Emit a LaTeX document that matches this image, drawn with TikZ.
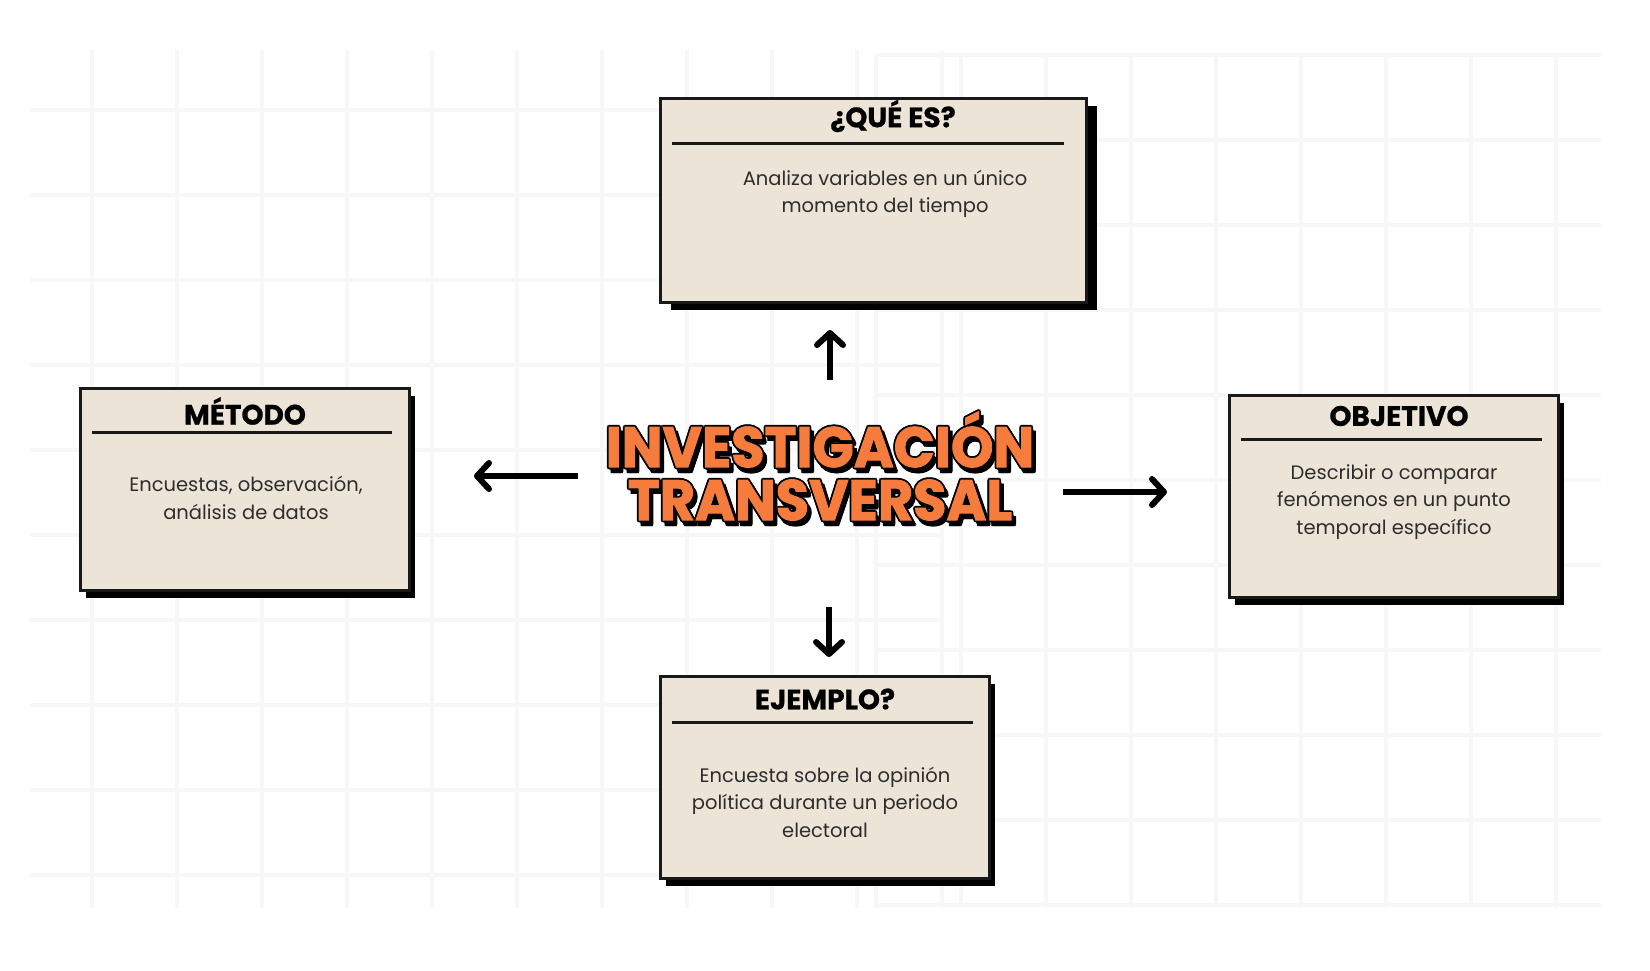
\documentclass[tikz,border=0pt]{standalone}
\usepackage{fontspec}
\setmainfont{Poppins}
\newfontfamily\bigfont{Poppins}[FakeStretch=0.95,FakeBold=1.6]
\newfontfamily\headfont{Poppins}[FakeBold=0.8]
\usetikzlibrary{arrows.meta,shadows}
\definecolor{cardbg}{RGB}{237,228,216}
\definecolor{titleorange}{RGB}{245,124,60}
\definecolor{gridgray}{RGB}{247,247,247}
\definecolor{bodygray}{RGB}{45,45,45}

\begin{document}
\begin{tikzpicture}[x=1pt,y=-1pt,
box/.style={
    rectangle,
    draw=black!90,
    fill=cardbg,
    line width=3pt,
    drop shadow={shadow xshift=#1,shadow yshift=-8pt,opacity=1,fill=black}
    },
box/.default=6pt,
head/.style={
    font=\headfont\fontsize{28}{30}\selectfont\bfseries,
    text=black,
    inner sep=0},
txt/.style={
    font=\fontsize{19.5}{27.5}\selectfont,
    text=bodygray,
    align=center,
    inner sep=0},
rule/.style={line width=3pt,draw=black!90},
conn/.style={line width=6pt,-{Straight Barb[round,length=12pt,width=26pt]}},
gridln/.style={line width=3.5pt,draw=gridgray},
big/.style={font=\bigfont\fontsize{57}{53}\selectfont\bfseries,align=center,inner sep=0}
]
\fill[white] (0,0) rectangle (1650,970);
\useasboundingbox (0,0) rectangle (1650,970);
% grids
\foreach \gx in {92,177,...,942} \draw[gridln] (\gx,50) -- (\gx,908);
\foreach \gy in {110,195,...,875} \draw[gridln] (30,\gy) -- (942,\gy);
\foreach \gx in {876,961,...,1556} \draw[gridln] (\gx,55) -- (\gx,908);
\foreach \gy in {55,140,...,905} \draw[gridln] (876,\gy) -- (1601,\gy);

% cards
\node(que) [box=11pt,minimum width=426pt,minimum height=204pt] at (873,200) {};
\node(queT) [head] at (893,116) {¿QUÉ ES?};
\draw[rule] (672,143) -- (1064,143);
\node(queB) [txt] at (885,194) {Analiza variables en un único\\momento del tiempo};

\node(met) [box,minimum width=329pt,minimum height=202pt] at (244.5,489) {};
\node(metT) [head] at (245,411) {MÉTODO};
\draw[rule] (92,432) -- (392,432);
\node(metB) [txt] at (246,498) {Encuestas, observación,\\análisis de datos};

\node(obj) [box,minimum width=329pt,minimum height=202pt] at (1393.5,496) {};
\node(objT) [head] at (1399,416) {OBJETIVO};
\draw[rule] (1241,439) -- (1542,439);
\node(objB) [txt] at (1394,502) {Describir o comparar\\fenómenos en un punto\\temporal específico};

\node(eje) [box,minimum width=329pt,minimum height=202pt] at (824.5,777) {};
\node(ejeT) [head] at (825,699) {EJEMPLO?};
\draw[rule] (672,722) -- (973,722);
\node(ejeB) [txt] at (825,802) {Encuesta sobre la opinión\\política durante un periodo\\electoral};

% title with outline and shadow
\foreach \dx/\dy [count=\k] in {-1.8/0,1.8/0,0/-1.8,0/1.8,-1.3/-1.3,1.3/-1.3,-1.3/1.3,1.3/1.3,1/2,2/3,3/4,3.5/5,4/5.5,2/5.5,4.5/4}
  \node(back\k) [big,text=black] at (820+\dx,466+\dy) {INVESTIGACIÓN\\TRANSVERSAL};
\node(central) [big,text=titleorange] at (820,466) {INVESTIGACIÓN\\TRANSVERSAL};

\draw[conn] ([xshift=10pt,yshift=86pt]central.center) -- ([xshift=-43pt,yshift=-26.5pt]que.south);
\draw[conn] ([xshift=9pt,yshift=-141pt]central.center) -- ([xshift=4.5pt,yshift=17.5pt]eje.north);
\draw[conn] ([xshift=-242pt,yshift=-10pt]central.center) -- ([xshift=63.5pt,yshift=13pt]met.east);
\draw[conn] ([xshift=243pt,yshift=-26pt]central.center) -- ([xshift=-60.5pt,yshift=4pt]obj.west);
\end{tikzpicture}
\end{document}
